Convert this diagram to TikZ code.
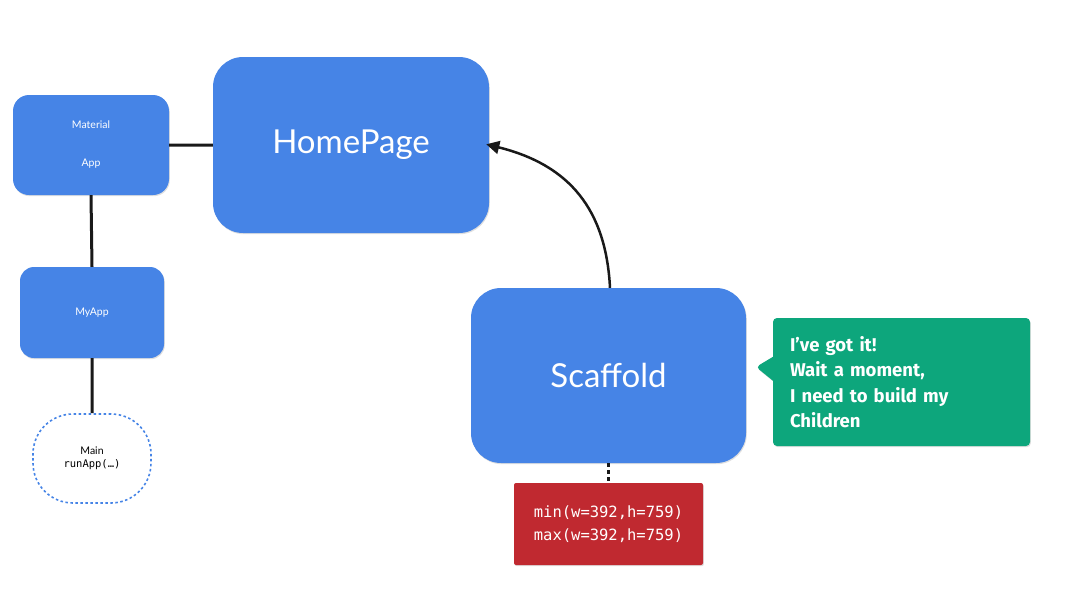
\documentclass[tikz,border=0pt]{standalone}
\usepackage{fontspec}
\setmainfont{Lato}
\newfontfamily\talkfont{Fira Sans}
\setmonofont{DejaVu Sans Mono}
\usetikzlibrary{arrows.meta}
\usetikzlibrary{shapes.callouts}
\usetikzlibrary{shadows}
\definecolor{widgetblue}{RGB}{70,132,230}
\definecolor{talkgreen}{RGB}{13,166,124}
\definecolor{boxred}{RGB}{192,41,48}
\tikzset{
	widget/.style={rectangle,fill=widgetblue,text=white,inner sep=0pt,
		drop shadow={shadow xshift=0.8pt,shadow yshift=-1.2pt,opacity=0.25,fill=gray}},
	link/.style={line width=3pt,black!90},
}
\begin{document}
\begin{tikzpicture}[x=1pt,y=-1pt]
	\useasboundingbox (0,0) rectangle (1080,608);
	\node [widget,minimum width=156pt,minimum height=100pt,rounded corners=16pt,align=center,font=\fontsize{10.5}{12}\selectfont] (mat) at (91,145) {Material\\[26pt]App};
	\node [widget,minimum width=276pt,minimum height=176pt,rounded corners=30pt,font=\fontsize{33}{38}\selectfont] (home) at (351,145) {HomePage};
	\node [widget,minimum width=144pt,minimum height=91pt,rounded corners=14pt,font=\fontsize{10.5}{12}\selectfont] (myapp) at (92,312.5) {MyApp};
	\node [rectangle,draw=widgetblue,line width=1.6pt,dash pattern=on 2.5pt off 2.5pt,minimum width=118pt,minimum height=89pt,rounded corners=40pt,align=center,inner sep=0pt,font=\fontsize{10.5}{13}\selectfont] (main) at (92,458.5) {Main\\\texttt{runApp(…)}};
	\node [widget,minimum width=275pt,minimum height=175pt,rounded corners=30pt,font=\fontsize{33}{38}\selectfont] (scaf) at (608.5,375.5) {Scaffold};
	\node [rectangle callout,callout absolute pointer={(756,367)},callout pointer width=24pt,fill=talkgreen,text=white,rounded corners=4pt,minimum width=257pt,minimum height=128pt,inner sep=0pt,text width=223pt,align=left,font=\talkfont\bfseries\fontsize{18.5}{25.5}\selectfont,
		drop shadow={shadow xshift=0.8pt,shadow yshift=-1.2pt,opacity=0.25,fill=gray}] (talk) at (901.5,382) {I’ve got it!\\Wait a moment,\\I need to build my\\Children};
	\node [widget,fill=boxred,rounded corners=2pt,minimum width=189pt,minimum height=82pt,align=left,font=\ttfamily\fontsize{15.5}{23}\selectfont] (limits) at (608.5,524) {min(w=392,h=759)\\max(w=392,h=759)};
	\draw [link] (mat.east) -- (home.west) (mat.south) -- (myapp.north) (myapp.south) -- (main.north);
	\draw [link,line width=3.5pt,dash pattern=on 4pt off 3pt] (scaf.south) -- (limits.north);
	\draw [link,line width=2.5pt,shorten >=-3pt,-{Triangle[length=13pt,width=13pt]}] ([xshift=1.5pt]scaf.north) .. controls (606,210) and (570,165) .. (home.east);
\end{tikzpicture}
\end{document}
